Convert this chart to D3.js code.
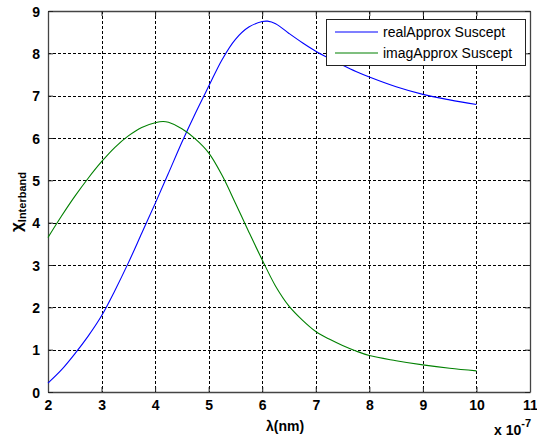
<!DOCTYPE html>
<html>
<head>
<meta charset="utf-8">
<script src="https://cdn.jsdelivr.net/npm/d3@7"></script>
<style>
  html, body { margin: 0; padding: 0; background: #fff; }
  svg { display: block; }
  .tick-label { font-family: "Liberation Sans Narrow", "Arial Narrow", "Liberation Sans", Arial, sans-serif; font-weight: bold; font-size: 14px; fill: #000; }
  .leg { font-family: "Liberation Sans", Arial, sans-serif; font-size: 14px; fill: #000; }
</style>
</head>
<body>
<script>
// wavelength (x 1e-7)
const lambdaReal = [2.0, 2.25, 2.5, 2.75, 3.0, 3.25, 3.5, 3.75, 4.0, 4.25, 4.5, 4.75, 5.0, 5.25, 5.5, 5.75, 6.0, 6.1, 6.25, 6.5, 6.75, 7.0, 7.25, 7.5, 7.75, 8.0, 8.5, 9.0, 9.5, 10.0];
const realApprox = [0.21, 0.52, 0.9, 1.32, 1.8, 2.4, 3.05, 3.75, 4.45, 5.17, 5.9, 6.58, 7.22, 7.85, 8.33, 8.62, 8.75, 8.76, 8.7, 8.47, 8.25, 8.05, 7.88, 7.72, 7.57, 7.44, 7.21, 7.03, 6.9, 6.79];
const lambdaImag = [2.0, 2.25, 2.5, 2.75, 3.0, 3.25, 3.5, 3.75, 4.0, 4.15, 4.25, 4.5, 4.75, 5.0, 5.25, 5.5, 5.75, 6.0, 6.25, 6.5, 6.75, 7.0, 7.25, 7.5, 7.75, 8.0, 8.5, 9.0, 9.5, 10.0];
const imagApprox = [3.65, 4.15, 4.62, 5.05, 5.44, 5.78, 6.05, 6.25, 6.36, 6.39, 6.37, 6.22, 5.98, 5.65, 5.12, 4.46, 3.78, 3.12, 2.5, 2.03, 1.7, 1.43, 1.25, 1.1, 0.97, 0.86, 0.74, 0.64, 0.56, 0.5];
const xTicks = [2, 3, 4, 5, 6, 7, 8, 9, 10, 11];
const yTicks = [0, 1, 2, 3, 4, 5, 6, 7, 8, 9];
const legendLabels = ["realApprox Suscept", "imagApprox Suscept"];
const colors = ["#0000ff", "#008000"];

const W = 537, H = 442;
const L = 48, R = 530, T = 11, B = 392;

const svg = d3.select("body").append("svg").attr("width", W).attr("height", H);
const x = d3.scaleLinear().domain([2, 11]).range([L, R]);
const y = d3.scaleLinear().domain([0, 9]).range([B, T]);

// grid
const grid = svg.append("g").attr("stroke", "#000").attr("stroke-width", 1).attr("stroke-dasharray", "3,2").attr("shape-rendering", "crispEdges");
xTicks.slice(1, -1).forEach(v => grid.append("line").attr("x1", Math.round(x(v)) + 0.5).attr("x2", Math.round(x(v)) + 0.5).attr("y1", T).attr("y2", B));
yTicks.slice(1, -1).forEach(v => grid.append("line").attr("y1", Math.round(y(v)) + 0.5).attr("y2", Math.round(y(v)) + 0.5).attr("x1", L).attr("x2", R));

// axes via d3
const axB = svg.append("g").attr("transform", `translate(0,${B})`).call(d3.axisBottom(x).tickValues(xTicks).tickSizeInner(-5).tickSizeOuter(0).tickPadding(8));
const axT = svg.append("g").attr("transform", `translate(0,${T})`).call(d3.axisTop(x).tickValues(xTicks).tickSizeInner(-5).tickSizeOuter(0).tickFormat(""));
const axL = svg.append("g").attr("transform", `translate(${L},0)`).call(d3.axisLeft(y).tickValues(yTicks).tickSizeInner(-5).tickSizeOuter(0).tickPadding(8));
const axR = svg.append("g").attr("transform", `translate(${R},0)`).call(d3.axisRight(y).tickValues(yTicks).tickSizeInner(-5).tickSizeOuter(0).tickFormat(""));
[axB, axT, axL, axR].forEach(a => {
  a.selectAll("path.domain").attr("stroke", "#444").attr("stroke-width", 1.3);
  a.selectAll(".tick line").attr("stroke", "#222");
  a.selectAll(".tick text").attr("class", "tick-label").attr("font-family", null).attr("font-size", null);
});
axL.selectAll(".tick text").attr("dy", "0.36em");

// lines
const line = d3.line().x(d => x(d[0])).y(d => y(d[1])).curve(d3.curveCatmullRom.alpha(0.5));
svg.append("path").datum(lambdaReal.map((l, i) => [l, realApprox[i]]))
  .attr("fill", "none").attr("stroke", colors[0]).attr("stroke-width", 1.1).attr("d", line);
svg.append("path").datum(lambdaImag.map((l, i) => [l, imagApprox[i]]))
  .attr("fill", "none").attr("stroke", colors[1]).attr("stroke-width", 1.1).attr("d", line);

// legend
const lg = svg.append("g");
lg.append("rect").attr("x", 326.5).attr("y", 19.5).attr("width", 199).attr("height", 46).attr("fill", "#fff").attr("stroke", "#222").attr("stroke-width", 1);
legendLabels.forEach((t, i) => {
  const yy = 32 + i * 21;
  lg.append("line").attr("x1", 335).attr("x2", 378).attr("y1", yy).attr("y2", yy).attr("stroke", colors[i]).attr("stroke-width", 1.2);
  lg.append("text").attr("class", "leg").attr("x", 383).attr("y", yy + 5).text(t);
});

// x label
svg.append("text").attr("class", "tick-label").attr("x", 285).attr("y", 431).attr("text-anchor", "middle").text("λ(nm)");
// exponent
const ex = svg.append("text").attr("class", "tick-label").attr("x", 494).attr("y", 435);
ex.append("tspan").text("x 10");
ex.append("tspan").attr("dy", -8).attr("font-size", 11).text("-7");

// y label
const yl = svg.append("text").attr("class", "tick-label").attr("transform", "translate(22,202) rotate(-90)").attr("text-anchor", "middle");
yl.append("tspan").attr("font-size", 17).text("χ");
yl.append("tspan").attr("dy", 4).attr("font-size", 11).text("Interband");
</script>
</body>
</html>
